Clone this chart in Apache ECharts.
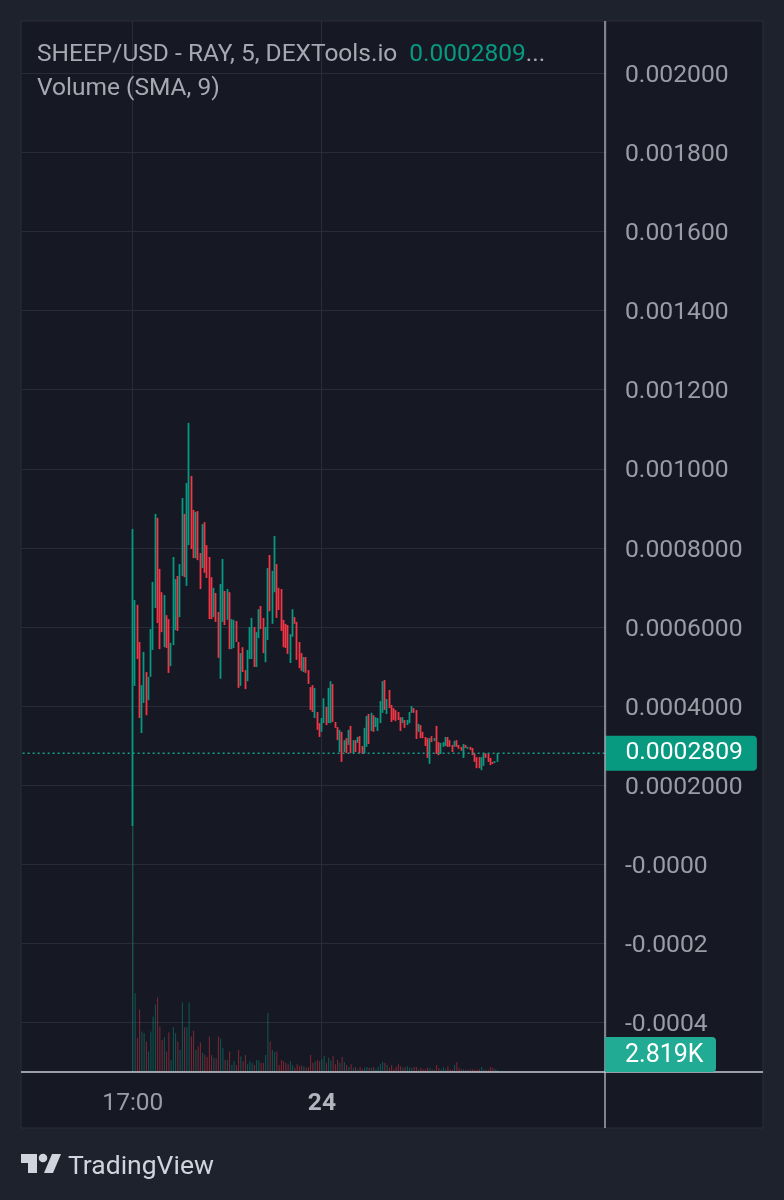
<!DOCTYPE html>
<html>
<head>
<meta charset="utf-8">
<style>html,body{margin:0;padding:0;background:#1e222d}#chart{width:784px;height:1200px}</style>
<script src="https://cdn.jsdelivr.net/npm/echarts@6/dist/echarts.min.js"></script>
</head>
<body>
<div id="chart"></div>
<script>
// SHEEP/USD 5-minute candles, prices in millionths of a dollar
const highs = [848,668,656,562,453,537,486,474,595,714,886,876,747,688,681,630,620,560,777,721,729,759,926,886,964,1116,982,896,891,893,787,860,865,807,777,726,699,686,638,709,772,691,696,688,620,618,615,562,534,549,491,542,600,623,600,587,645,653,623,600,749,782,742,830,759,699,696,618,608,605,582,645,625,613,562,534,524,524,491,448,453,446,385,357,370,420,398,446,463,456,360,347,340,335,314,319,340,350,314,314,322,324,299,345,375,380,383,377,372,370,413,463,466,418,441,403,395,390,385,372,372,365,365,385,400,395,390,355,352,335,322,319,319,324,319,350,309,307,309,322,322,314,302,312,314,302,297,304,302,297,297,294,281,271,271,271,281,281,279,269,259,261,280.9];
const lows = [97,451,519,370,332,408,377,415,474,542,648,610,544,587,549,547,484,501,554,592,590,625,729,726,704,807,797,774,774,769,696,749,737,724,620,620,625,613,522,469,613,605,618,544,544,547,562,446,451,486,443,463,519,519,499,499,572,595,534,511,567,640,608,688,623,643,590,549,547,532,509,575,608,517,496,489,486,484,456,390,385,370,340,322,335,357,352,357,357,360,345,314,284,259,284,281,302,281,281,284,307,281,279,281,297,304,337,335,347,337,357,383,390,380,395,360,365,362,365,337,357,345,352,357,383,383,317,335,319,319,299,269,254,309,312,279,276,279,297,299,297,297,284,297,297,292,287,269,294,292,289,276,259,243,243,238,249,269,259,251,254,256,259];
const rising = [1,1,0,0,1,1,0,1,1,1,1,0,0,0,1,0,0,1,1,1,0,1,1,0,1,1,0,0,1,0,0,1,0,0,0,0,1,0,0,1,1,0,1,0,1,1,0,0,1,0,0,1,1,1,0,1,1,0,0,1,1,0,1,1,0,0,0,0,0,0,1,1,0,0,0,0,1,0,0,0,0,1,0,0,1,1,0,1,1,0,0,0,1,0,1,0,1,0,1,0,1,0,0,1,1,0,1,0,1,1,1,1,0,1,0,0,0,0,0,0,1,0,1,1,1,0,0,1,0,0,0,0,1,0,1,0,0,1,1,1,0,0,0,1,0,0,0,1,0,1,0,0,0,0,0,1,1,0,0,0,0,1,1];
// Traded volume per candle, in thousands
const volumes = [346,111,48,88,57,55,43,29,57,78,95,105,64,45,49,29,56,17,63,55,43,31,98,63,63,98,50,58,31,36,42,27,24,21,50,24,20,19,50,47,34,17,17,29,10,15,10,31,22,15,24,11,15,13,10,17,16,13,13,24,83,43,31,28,29,10,17,15,13,11,15,10,6,11,8,9,8,6,7,24,13,15,17,15,18,23,13,20,16,23,11,17,13,21,14,10,7,11,6,7,4,7,4,6,7,6,6,7,4,7,11,14,13,10,6,10,4,7,11,8,6,7,8,6,6,7,7,4,6,4,4,6,6,4,3,10,6,4,7,4,8,4,3,10,14,6,4,4,3,3,4,4,3,3,4,7,4,3,3,7,6,4,2.819];

const priceTicks = [0.002,0.0018,0.0016,0.0014,0.0012,0.001,0.0008,0.0006,0.0004,0.0002,0,-0.0002,-0.0004];
const priceTickLabels = ['0.002000','0.001800','0.001600','0.001400','0.001200','0.001000','0.0008000','0.0006000','0.0004000','0.0002000','-0.0000','-0.0002','-0.0004'];
const timeLabels = {49:'17:00',133:'24'};
const firstCandleSlot = 49;
const lastPriceText = '0.0002809';
const lastVolumeText = '2.819K';
const legendName = 'SHEEP/USD - RAY, 5, DEXTools.io';
const slotCount = 260;

const UP = '#089981', DOWN = '#f23645';
const TEXT = '#9a9da6', GRIDLINE = '#292c38', AXIS = '#c9ccd4';
const FONT = 'Roboto';

const slots = Array.from({length: slotCount}, (_, i) => timeLabels[i] || '');
const lead = Array(firstCandleSlot).fill('-');
const candles = highs.map((h, i) => {
  const price = v => v * 1e-6;
  return rising[i]
    ? [price(lows[i]), price(h), price(lows[i]), price(h)]
    : [price(h), price(lows[i]), price(lows[i]), price(h)];
});
const lastClose = highs[highs.length - 1] * 1e-6;
const volumeItems = volumes.map((v, i) => ({
  value: v,
  itemStyle: {color: rising[i] ? UP : DOWN, opacity: 0.5}
}));

const chart = echarts.init(document.getElementById('chart'), null, {renderer: 'canvas'});
chart.setOption({
  animation: false,
  backgroundColor: '#1e222d',
  textStyle: {fontFamily: FONT},
  title: {
    left: 37, top: 38, padding: 0,
    text: '{a|' + legendName + '}  {b|' + lastPriceText + '}{a|...}\n{a|Volume (SMA, 9)}',
    textStyle: {
      fontWeight: 'normal',
      rich: {
        a: {fontFamily: FONT, fontSize: 24.5, fontWeight: 'normal', color: '#a6a9b1', lineHeight: 34},
        b: {fontFamily: FONT, fontSize: 24.5, fontWeight: 'normal', color: UP, lineHeight: 34, padding: [0, 0, 0, 3]}
      }
    }
  },
  grid: {left: 21.5, top: 21, width: 585, height: 1051, show: false},
  xAxis: {
    type: 'category',
    data: slots,
    boundaryGap: true,
    axisLine: {show: false},
    axisTick: {show: false},
    axisLabel: {
      interval: i => !!timeLabels[i],
      margin: 19,
      fontFamily: FONT,
      fontSize: 24.5,
      hideOverlap: false,
      color: TEXT,
      formatter: v => v === '24' ? '{bold|24}' : v,
      rich: {bold: {fontFamily: FONT, fontSize: 24.5, fontWeight: 'bold', color: '#b2b5be'}}
    },
    splitLine: {show: true, interval: i => !!timeLabels[i], lineStyle: {color: GRIDLINE, width: 1}}
  },
  yAxis: [{
    type: 'value',
    position: 'right',
    min: -0.000525,
    max: 0.002132,
    axisLine: {show: false},
    axisTick: {show: false, customValues: priceTicks},
    axisLabel: {
      customValues: priceTicks,
      margin: 18.5,
      formatter: v => '{tick|' + priceTickLabels[priceTicks.findIndex(t => Math.abs(t - v) < 1e-9)] + '}',
      rich: {tick: {fontFamily: FONT, fontSize: 24.7, color: TEXT, padding: [5, 0, 0, 0]}}
    },
    splitLine: {show: true, lineStyle: {color: GRIDLINE, width: 1}}
  }, {
    type: 'value',
    min: 0,
    max: 1480,
    show: false,
    splitLine: {show: false}
  }],
  series: [{
    type: 'bar',
    name: 'Volume',
    yAxisIndex: 1,
    barWidth: 1,
    data: lead.concat(volumeItems),
    silent: true,
    z: 2
  }, {
    type: 'candlestick',
    name: 'SHEEP/USD',
    barWidth: 1,
    data: lead.concat(candles),
    itemStyle: {color: UP, color0: DOWN, borderColor: UP, borderColor0: DOWN, borderWidth: 1.8},
    silent: true,
    z: 3
  }, {
    // dotted last-price line, with its tag on the price scale
    type: 'line',
    name: 'Last price',
    data: slots.map(() => lastClose),
    showSymbol: false,
    silent: true,
    z: 4,
    lineStyle: {type: [2, 3], color: '#14a08a', width: 1.4},
    endLabel: {
      show: true,
      distance: 0,
      formatter: lastPriceText,
      fontFamily: FONT,
      fontSize: 24.7,
      color: '#ffffff',
      backgroundColor: UP,
      borderRadius: [0, 4, 4, 0],
      padding: [6, 14, 4, 20]
    }
  }],
  graphic: [
    // dark chart panel with its hairline frame
    {type: 'rect', z: -10, silent: true, shape: {x: 21, y: 21, width: 742, height: 1107},
     style: {fill: '#161824', stroke: '#2a2d38', lineWidth: 1}},
    // price and time scale separators
    {type: 'line', z: 6, silent: true, shape: {x1: 605, y1: 21, x2: 605, y2: 1128}, style: {stroke: AXIS, lineWidth: 1.2}},
    {type: 'line', z: 6, silent: true, shape: {x1: 21, y1: 1072, x2: 763, y2: 1072}, style: {stroke: AXIS, lineWidth: 1.6}},
    // current volume tag, pinned against the bottom of the pane
    {type: 'rect', z: 7, silent: true, shape: {x: 605, y: 1037, width: 111, height: 35, r: [0, 4, 4, 0]}, style: {fill: '#22ab94'}},
    {type: 'text', z: 8, silent: true, x: 625, y: 1056,
     style: {text: lastVolumeText, fontFamily: FONT, fontSize: 25, fill: '#ffffff', verticalAlign: 'middle'}},
    // TradingView mark and wordmark
    {type: 'polygon', silent: true, shape: {points: [[21,1154],[37,1154],[37,1173],[28,1173],[28,1163],[21,1163]]}, style: {fill: '#d1d4dc'}},
    {type: 'circle', silent: true, shape: {cx: 43, cy: 1158, r: 4.3}, style: {fill: '#d1d4dc'}},
    {type: 'polygon', silent: true, shape: {points: [[52,1154],[61,1154],[53,1173],[44,1173]]}, style: {fill: '#d1d4dc'}},
    {type: 'text', silent: true, x: 68, y: 1167,
     style: {text: 'TradingView', fontFamily: FONT, fontSize: 26.5, fill: '#d1d4dc', verticalAlign: 'middle'}}
  ]
});
</script>
</body>
</html>
